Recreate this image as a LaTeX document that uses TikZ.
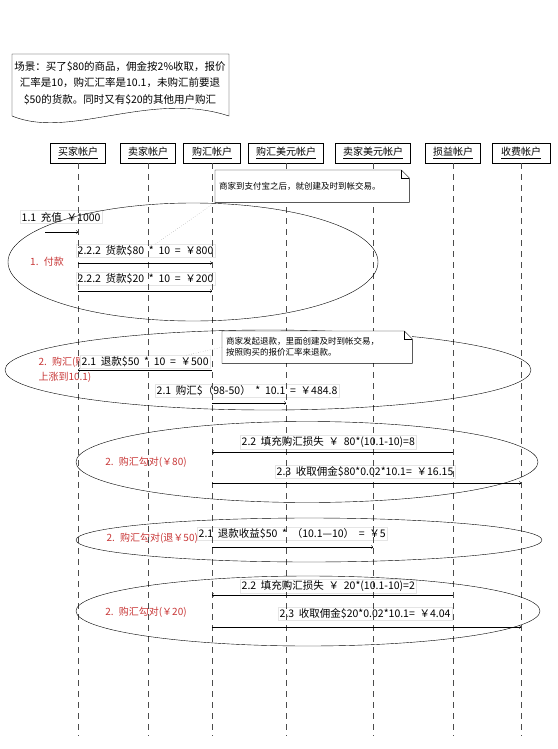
\documentclass[tikz,border=0pt]{standalone}
\usepackage{fontspec}
\setmainfont{Noto Sans CJK SC}[WordSpace=2]
\usetikzlibrary{shapes.geometric}

\definecolor{grouptext}{RGB}{200,55,55}

\tikzset{
	account/.style={draw, minimum height=20, inner sep=0, font=\fontsize{10}{12}\selectfont},
	lifeline/.style={dash pattern=on 6pt off 5pt, gray!60!black, thin},
	msg/.style={->, thin},
	msglabel/.style={draw=gray!20, fill=white, inner sep=1.5, anchor=west, font=\fontsize{10.5}{12}\selectfont},
	group/.style={draw, ellipse, inner sep=0, thin},
	grouplabel/.style={text=grouptext, align=left, font=\fontsize{10}{15}\selectfont},
	memo/.style={fill=white, inner sep=4, align=left, anchor=north west, font=\fontsize{8.5}{11}\selectfont},
}

\newcommand{\memoframe}[1]{%
	\draw (#1.south west) -- (#1.north west) -- ([xshift=-8pt]#1.north east)
		-- ([yshift=-8pt]#1.north east) -- (#1.south east) -- cycle;
	\draw ([xshift=-8pt]#1.north east) -- ([xshift=-8pt,yshift=-8pt]#1.north east)
		-- ([yshift=-8pt]#1.north east);}

\begin{document}
\begin{tikzpicture}[x=1pt, y=-1pt]
	\useasboundingbox (0,0) rectangle (557,749);
	
	%scenario
	\draw (12,116) -- (12,54) -- (229,54) -- (229,116) .. controls (150,90) and (70,140) .. (12,116);
	\node[align=center, font=\fontsize{10.5}{16.5}\selectfont] (scene) at (120,83){场景：买了\$80的商品，佣金按2\%收取，报价\\汇率是10，购汇汇率是10.1，未购汇前要退\\\$50的货款。同时又有\$20的其他用户购汇};
	
	%accounts
	\node[account, minimum width=55] (buyer) at (78,153){\underline{买家帐户}};
	\node[account, minimum width=55] (seller) at (148,153){\underline{卖家帐户}};
	\node[account, minimum width=57] (fxacc) at (212,153){\underline{购汇帐户}};
	\node[account, minimum width=75] (fxusd) at (286,153){\underline{购汇美元帐户}};
	\node[account, minimum width=75] (sellerusd) at (373,153){\underline{卖家美元帐户}};
	\node[account, minimum width=55] (pnl) at (453,153){\underline{损益帐户}};
	\node[account, minimum width=58] (fee) at (521,153){\underline{收费帐户}};
	\coordinate (bottom) at (0,736);
	
	%group texts
	\node[grouplabel] (g1text) at (47,262){1. 付款};
	\node[grouplabel, anchor=west] (g2text) at (35,370){2. 购汇(购\\上涨到10.1)};
	\node[grouplabel] (g3text) at (146,462){2. 购汇勾对(￥80)};
	\node[grouplabel, anchor=west] (g4text) at (103,538){2. 购汇勾对(退￥50)};
	\node[grouplabel] (g5text) at (146,612){2. 购汇勾对(￥20)};
	
	%message labels
	\node[msglabel] (l11) at (20,217){1.1 充值 ￥1000};
	\node[msglabel] (l222a) at (76,251){2.2.2 货款\$80 * 10 = ￥800};
	\node[msglabel] (l222b) at (76,279){2.2.2 货款\$20 * 10 = ￥200};
	\node[msglabel] (l21a) at (80,362){2.1 退款\$50 * 10 = ￥500};
	\node[msglabel] (l21b) at (155,391){2.1 购汇\$（98-50） * 10.1 = ￥484.8};
	\node[msglabel] (l22a) at (240,442){2.2 填充购汇损失 ￥ 80*(10.1-10)=8};
	\node[msglabel] (l23a) at (275,472){2.3 收取佣金\$80*0.02*10.1= ￥16.15};
	\node[msglabel] (l21c) at (197,534){2.1 退款收益\$50 * （10.1—10） = ￥5};
	\node[msglabel] (l22b) at (240,586){2.2 填充购汇损失 ￥ 20*(10.1-10)=2};
	\node[msglabel] (l23b) at (278,614){2.3 收取佣金\$20*0.02*10.1= ￥4.04};
	
	%lifelines
	\foreach \a in {buyer, seller, fxacc, fxusd, sellerusd, pnl, fee}
		\draw[lifeline] (\a.south) -- (\a |- bottom);
	
	%groups
	\node[group, minimum width=370, minimum height=118] (grp1) at (193,262){};
	\node[group, minimum width=526, minimum height=80] (grp2) at (268,370){};
	\node[group, minimum width=462, minimum height=81] (grp3) at (307,462){};
	\node[group, minimum width=466, minimum height=44] (grp4) at (309,540){};
	\node[group, minimum width=464, minimum height=70] (grp5) at (308,611){};
	
	%messages
	\coordinate (topup) at (45,232);
	\coordinate (r2) at (0,263);
	\coordinate (r3) at (0,291);
	\coordinate (r4) at (0,370);
	\coordinate (r5) at (0,403);
	\coordinate (r6) at (0,452);
	\coordinate (r7) at (0,483);
	\coordinate (r8) at (0,547);
	\coordinate (r9) at (0,595);
	\coordinate (r10) at (0,627);
	\draw[msg] (topup) -- (buyer |- topup);
	\draw[msg] (buyer |- r2) -- (fxacc |- r2);
	\draw[msg] (buyer |- r3) -- (fxacc |- r3);
	\draw[msg] (fxacc |- r4) -- (buyer |- r4);
	\draw[msg] (fxacc |- r5) -- (fxusd |- r5);
	\draw[msg] (pnl |- r6) -- (fxacc |- r6);
	\draw[msg] (fxacc |- r7) -- (fee |- r7);
	\draw[msg] (fxacc |- r8) -- (sellerusd |- r8);
	\draw[msg] (pnl |- r9) -- (fxacc |- r9);
	\draw[msg] (fxacc |- r10) -- (fee |- r10);
	
	%notes
	\node[memo, text width=186, minimum height=32] (memo1) at (215,170){商家到支付宝之后，就创建及时到帐交易。};
	\memoframe{memo1}
	\node[memo, text width=182, minimum height=32] (memo2) at (222,331){商家发起退款，里面创建及时到帐交易，\\按照购买的报价汇率来退款。};
	\memoframe{memo2}
	\draw[dotted, gray] (memo1.south west) -- (l222a);
	\draw[dotted, gray] (memo2.west) -- ([xshift=-24pt]l21a.north east);

\end{tikzpicture}
\end{document}
